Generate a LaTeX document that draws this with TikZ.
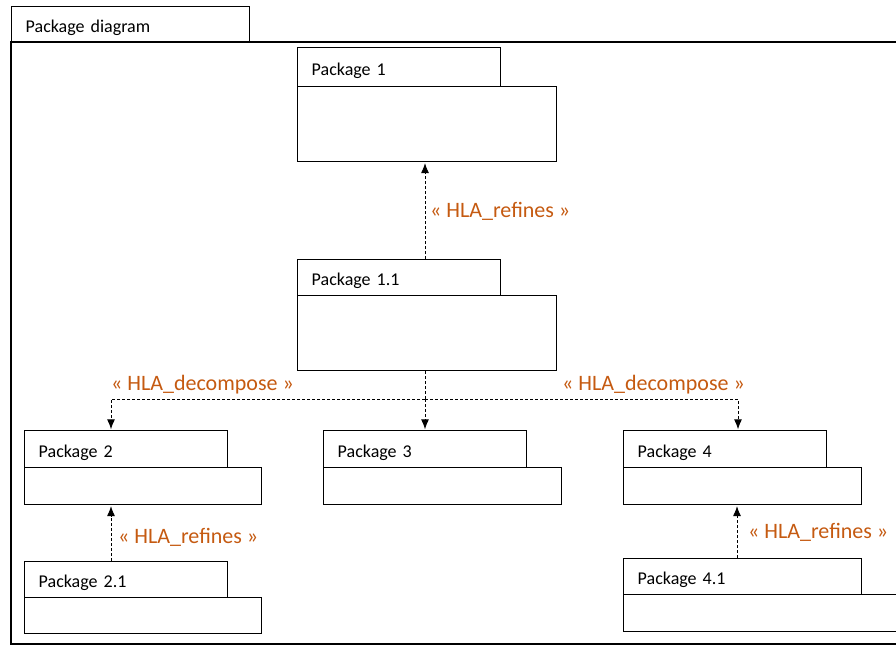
\documentclass[tikz,border=0pt]{standalone}
\usepackage{fontspec}
\setmainfont{Carlito}
\usetikzlibrary{arrows.meta}
\definecolor{hla}{RGB}{197,90,17}
\begin{document}
\begin{tikzpicture}[x=1pt,y=-1pt,
  boxline/.style={draw, line width=1.4pt},
  pkgtab/.style={boxline, fill=white, anchor=north west, inner xsep=14pt, inner ysep=0pt,
    minimum height=37pt, align=left, text height=16pt, text depth=0pt, font=\fontsize{18}{20}\selectfont},
  pkgbody/.style={boxline, fill=white, anchor=north west, inner sep=0pt, minimum height=37pt},
  dep/.style={line width=0.9pt, dash pattern=on 3pt off 2pt, -{Latex[length=10pt,width=8pt]}},
  depline/.style={line width=0.9pt, dash pattern=on 3pt off 2pt},
  lbl/.style={inner sep=0pt, text=hla, font=\fontsize{22}{26}\selectfont, anchor=base west}]
\useasboundingbox (0,0) rectangle (896,645);
\clip (0,0) rectangle (896,645);
% frame
\node[pkgtab, text width=210pt, minimum height=36pt] (frt) at (11,6) {Package diagram};
\draw[line width=1.4pt] (11,42) rectangle (905,644);
% packages
\node[pkgtab, text width=175pt, minimum height=39pt] (p1t) at (297,47) {Package 1};
\node[pkgbody, minimum width=259pt, minimum height=75pt] (p1b) at (297,86) {};
\node[pkgtab, text width=175pt, minimum height=36pt] (p11t) at (297,259) {Package 1.1};
\node[pkgbody, minimum width=259pt, minimum height=75pt] (p11b) at (297,295) {};
\node[pkgtab, text width=175pt] (p2t) at (24,430) {Package 2};
\node[pkgbody, minimum width=237pt] (p2b) at (24,467) {};
\node[pkgtab, text width=175pt] (p3t) at (323,430) {Package 3};
\node[pkgbody, minimum width=238pt] (p3b) at (323,467) {};
\node[pkgtab, text width=175pt] (p4t) at (623,430) {Package 4};
\node[pkgbody, minimum width=238pt] (p4b) at (623,467) {};
\node[pkgtab, text width=175pt, minimum height=36pt] (p21t) at (24,561) {Package 2.1};
\node[pkgbody, minimum width=237pt, minimum height=36pt] (p21b) at (24,597) {};
\node[pkgtab, text width=210pt, minimum height=36pt] (p41t) at (623,558) {Package 4.1};
\node[pkgbody, minimum width=290pt] (p41b) at (623,594) {};
% connectors
\draw[dep] ([xshift=128pt]p11t.north west) -- ([xshift=128pt,yshift=-0.7pt]p1b.south west);
\coordinate (split) at (425,399);
\draw[depline] ([xshift=128pt]p11b.south west) -- (split);
\draw[dep] (split) -- ([xshift=102pt,yshift=0.7pt]p3t.north west);
\draw[dep] (split) -| ([xshift=87pt,yshift=0.7pt]p2t.north west);
\draw[dep] (split) -| ([xshift=115pt,yshift=0.7pt]p4t.north west);
\draw[dep] ([xshift=87pt]p21t.north west) -- ([xshift=87pt,yshift=-0.7pt]p2b.south west);
\draw[dep] ([xshift=114pt]p41t.north west) -- ([xshift=114pt,yshift=-0.7pt]p4b.south west);
% labels
\node[lbl] (l1) at (430,217) {« HLA\_refines »};
\node[lbl] (l2) at (111,390) {« HLA\_decompose »};
\node[lbl] (l3) at (562,390) {« HLA\_decompose »};
\node[lbl] (l4) at (118,543) {« HLA\_refines »};
\node[lbl] (l5) at (748,538) {« HLA\_refines »};
\end{tikzpicture}
\end{document}
